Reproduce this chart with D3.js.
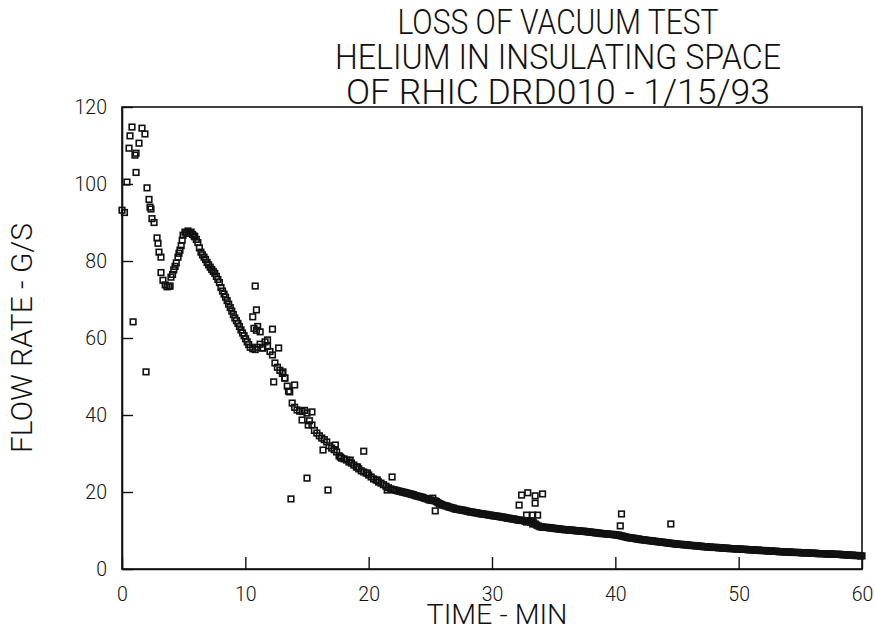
<!DOCTYPE html>
<html>
<head>
<meta charset="utf-8">
<script src="https://cdn.jsdelivr.net/npm/d3@7"></script>
<style>
  html, body { margin: 0; padding: 0; background: #fff; }
  svg text { font-family: "Roboto", "DejaVu Sans", sans-serif; font-weight: 300; fill: #111; }
</style>
</head>
<body>
<svg id="chart" width="875" height="637"></svg>
<script>
// ---- labels ----
const titleLines = ["LOSS OF VACUUM TEST", "HELIUM IN INSULATING SPACE", "OF RHIC DRD010 - 1/15/93"];
const xLabel = "TIME - MIN";
const yLabel = "FLOW RATE - G/S";
const xTicks = [0, 10, 20, 30, 40, 50, 60];
const yTicks = [0, 20, 40, 60, 80, 100, 120];

// ---- start-up transient (min, g/s) ----
const startupTime = [0.0, 0.2, 0.4, 0.57, 0.65, 0.81, 0.9, 1.05, 1.14, 1.14, 1.38, 1.62, 1.86, 1.95,
  2.03, 2.19, 2.27, 2.35, 2.43, 2.6, 2.84, 2.92, 3.0, 3.16, 3.16, 3.32, 3.5, 3.65, 3.8, 3.9,
  3.97, 4.1, 4.2, 4.3, 4.4, 4.54, 4.62, 4.7, 4.8, 4.88, 4.95, 5.1, 5.22, 5.35, 5.48, 5.6, 5.72, 5.84];
const startupFlow = [93.2, 92.6, 100.5, 109.3, 112.5, 114.8, 64.2, 107.5, 108, 103, 110.6, 114.5, 113, 51.2,
  99, 96, 94, 93.5, 91, 90, 86, 84.6, 82.3, 81, 77, 75, 73.8, 73.3, 73.4, 73.5,
  75.8, 76.5, 77.7, 78.6, 79.5, 81, 82, 82.8, 84, 85.4, 86.7, 87.5, 87.2, 87.8, 87.3, 87.5, 86.9, 86.5];

// ---- steady decline after the peak, logged every 0.125 min from 5.9 min ----
const descentStart = 5.9, descentStep = 0.125;
const descentFlow = [86.3, 85.6, 84.8, 83.4, 82.3, 81.6, 81.0, 80.4, 79.6, 79.0, 78.4, 77.8, 77.3,
  76.8, 76.0, 75.2, 74.4, 73.1, 72.2, 71.4, 70.6, 69.7, 68.8, 67.9, 67.0, 66.1, 65.2, 64.5,
  63.8, 63.0, 62.1, 61.3, 60.6, 59.8, 59.0, 58.3, 57.6];

// ---- noisy middle section, logged every 0.2 min from 10.6 min ----
const middleStart = 10.6, middleStep = 0.2;
const middleFlow = [57.2, 57.0, 57.6, 58.4, 57.4, 59.0, 57.8, 56.5, 55.6, 53.5, 52.4, 51.6, 50.8,
  49.6, 47.5, 46.0, 43.1, 42.0, 41.3, 41.0, 40.9, 41.2, 40.5, 38.5, 37.4, 36.0, 35.3, 34.6,
  34.0, 33.6, 33.0, 32.0, 31.4, 31.0, 30.4, 29.4, 28.8, 28.6, 28.3, 27.8, 27.5, 27.0, 26.5,
  26.0, 25.5, 25.2, 24.9, 24.4, 23.9, 23.4, 23.1, 22.6, 22.3, 21.9, 21.5, 21.1, 20.8, 20.6];

// ---- isolated readings off the main trend ----
const strayTime = [10.8, 10.9, 10.6, 10.7, 10.9, 11.0, 11.2, 12.2, 11.4, 11.8, 12.7, 12.3, 13.05, 13.2,
  14.0, 13.5, 15.4, 14.6, 15.1, 16.3, 17.3, 17.7, 18.5, 19.6, 19.1, 19.9, 20.7, 21.9, 21.5,
  15.0, 16.7, 13.7, 25.4, 25.2, 32.4, 32.9, 33.5, 34.1, 32.2, 33.5, 32.8, 33.3, 33.7, 32.8, 33.3,
  40.5, 40.4, 44.5];
const strayFlow = [73.5, 67.3, 65.5, 62.5, 62, 63.0, 61.6, 62.3, 57.4, 59.5, 57.4, 48.6, 51.2, 49.6,
  47.8, 46.2, 40.8, 38.7, 37.4, 30.9, 32.2, 29.1, 28.3, 30.6, 26.5, 24.9, 23.1, 23.9, 20.5,
  23.6, 20.5, 18.2, 15.1, 18.4, 19.2, 19.8, 19.0, 19.5, 16.6, 17.1, 14.0, 14.0, 14.0, 12.2, 11.7,
  14.3, 11.2, 11.7];

// ---- slow tail, logged every 0.125 min from 22.125 min ----
const tailStart = 22.125, tailStep = 0.125;
const tailFlow = [
  20.5, 20.4, 20.3, 20.2, 20.1, 20.0, 19.9, 19.8,
  19.7, 19.6, 19.5, 19.4, 19.3, 19.1, 19.0, 18.9,
  18.8, 18.7, 18.6, 18.4, 18.3, 18.2, 18.0, 17.9,
  17.8, 17.8, 17.7, 17.5, 17.2, 17.0, 16.8, 16.6,
  16.5, 16.4, 16.3, 16.1, 16.0, 15.9, 15.8, 15.6,
  15.5, 15.5, 15.4, 15.3, 15.3, 15.2, 15.1, 15.0,
  14.9, 14.8, 14.8, 14.7, 14.6, 14.6, 14.5, 14.4,
  14.3, 14.3, 14.2, 14.2, 14.1, 14.0, 14.0, 13.9,
  13.8, 13.8, 13.7, 13.7, 13.6, 13.5, 13.5, 13.4,
  13.3, 13.2, 13.2, 13.1, 13.0, 13.0, 12.9, 12.8,
  12.7, 12.7, 12.6, 12.6, 12.5, 12.4, 12.4, 12.3,
  12.2, 12.1, 12.0, 11.7, 11.4, 11.2, 11.0, 10.9,
  10.9, 10.8, 10.8, 10.8, 10.7, 10.7, 10.6, 10.6,
  10.5, 10.5, 10.4, 10.4, 10.3, 10.3, 10.2, 10.2,
  10.2, 10.1, 10.1, 10.1, 10.0, 10.0, 9.9, 9.9,
  9.9, 9.8, 9.8, 9.8, 9.7, 9.7, 9.6, 9.6,
  9.5, 9.5, 9.4, 9.4, 9.3, 9.3, 9.2, 9.2,
  9.2, 9.1, 9.1, 9.0, 9.0, 9.0, 8.9, 8.9,
  8.8, 8.8, 8.7, 8.6, 8.5, 8.4, 8.3, 8.2,
  8.1, 8.1, 8.0, 8.0, 7.9, 7.8, 7.8, 7.7,
  7.6, 7.6, 7.5, 7.5, 7.4, 7.4, 7.3, 7.3,
  7.2, 7.2, 7.1, 7.1, 7.0, 7.0, 6.9, 6.9,
  6.8, 6.8, 6.7, 6.7, 6.6, 6.6, 6.5, 6.5,
  6.4, 6.4, 6.4, 6.3, 6.3, 6.3, 6.2, 6.2,
  6.1, 6.1, 6.1, 6.0, 6.0, 6.0, 5.9, 5.9,
  5.8, 5.8, 5.8, 5.7, 5.7, 5.7, 5.6, 5.6,
  5.6, 5.6, 5.5, 5.5, 5.5, 5.4, 5.4, 5.4,
  5.4, 5.3, 5.3, 5.3, 5.3, 5.2, 5.2, 5.2,
  5.2, 5.1, 5.1, 5.1, 5.1, 5.0, 5.0, 5.0,
  5.0, 4.9, 4.9, 4.9, 4.9, 4.8, 4.8, 4.8,
  4.8, 4.7, 4.7, 4.7, 4.7, 4.6, 4.6, 4.6,
  4.6, 4.5, 4.5, 4.5, 4.5, 4.4, 4.4, 4.4,
  4.4, 4.4, 4.3, 4.3, 4.3, 4.3, 4.3, 4.25,
  4.2, 4.2, 4.2, 4.2, 4.2, 4.1, 4.1, 4.1,
  4.1, 4.1, 4.0, 4.0, 4.0, 4.0, 4.0, 3.95,
  3.9, 3.9, 3.9, 3.9, 3.9, 3.8, 3.8, 3.8,
  3.8, 3.8, 3.7, 3.7, 3.7, 3.7, 3.6, 3.6,
  3.6, 3.6, 3.5, 3.5, 3.5, 3.5, 3.4, 3.4];

// ---- assemble readings ----
const readings = [];
startupTime.forEach((t, i) => readings.push({ t, v: startupFlow[i] }));
descentFlow.forEach((v, i) => readings.push({ t: descentStart + i * descentStep, v }));
middleFlow.forEach((v, i) => readings.push({ t: middleStart + i * middleStep, v }));
strayTime.forEach((t, i) => readings.push({ t, v: strayFlow[i] }));
tailFlow.forEach((v, i) => readings.push({ t: tailStart + i * tailStep, v }));

// ---- layout ----
const svg = d3.select("#chart");
const plot = { left: 122, right: 862, top: 107, bottom: 569 };
const x = d3.scaleLinear().domain([0, 60]).range([plot.left, plot.right]);
const y = d3.scaleLinear().domain([0, 120]).range([plot.bottom, plot.top]);

// title: three stacked lines, tall and narrow
const titleX = 558;
const titleBase = [34, 69, 104];
const titleWidth = [321, 446, 424];
svg.append("g").selectAll("text").data(titleLines).join("text")
  .attr("x", titleX).attr("y", (d, i) => titleBase[i])
  .attr("text-anchor", "middle")
  .attr("font-size", 35)
  .attr("textLength", (d, i) => titleWidth[i])
  .attr("lengthAdjust", "spacingAndGlyphs")
  .text(d => d);

// frame
svg.append("rect")
  .attr("x", plot.left).attr("y", plot.top)
  .attr("width", plot.right - plot.left).attr("height", plot.bottom - plot.top)
  .attr("fill", "none").attr("stroke", "#111").attr("stroke-width", 1.6);

// axes with inward ticks
const xAxis = svg.append("g")
  .attr("transform", `translate(0,${plot.bottom})`)
  .call(d3.axisBottom(x).tickValues(xTicks).tickSizeInner(-12).tickSizeOuter(0).tickPadding(18));
const yAxis = svg.append("g")
  .attr("transform", `translate(${plot.left},0)`)
  .call(d3.axisLeft(y).tickValues(yTicks).tickSizeInner(-11).tickSizeOuter(0).tickPadding(15));

[xAxis, yAxis].forEach(g => {
  g.select(".domain").attr("stroke", "#111").attr("stroke-width", 1.6);
  g.selectAll(".tick line").attr("stroke", "#111").attr("stroke-width", 1.4);
  g.selectAll(".tick text")
    .attr("font-size", 19.5)
    .attr("font-family", "Roboto, 'DejaVu Sans', sans-serif")
    .attr("font-weight", 300)
    .attr("fill", "#111");
});

// axis titles
svg.append("text")
  .attr("x", 497).attr("y", 624)
  .attr("text-anchor", "middle")
  .attr("font-size", 27)
  .attr("textLength", 141).attr("lengthAdjust", "spacingAndGlyphs")
  .text(xLabel);

svg.append("text")
  .attr("transform", `translate(32,${(plot.top + plot.bottom) / 2}) rotate(-90)`)
  .attr("text-anchor", "middle")
  .attr("font-size", 29)
  .attr("textLength", 230).attr("lengthAdjust", "spacingAndGlyphs")
  .text(yLabel);

// open square markers
const side = 5.6;
svg.append("g").selectAll("rect").data(readings).join("rect")
  .attr("x", d => x(d.t) - side / 2)
  .attr("y", d => y(d.v) - side / 2)
  .attr("width", side).attr("height", side)
  .attr("fill", "none")
  .attr("stroke", "#111")
  .attr("stroke-width", 1.6);
</script>
</body>
</html>
